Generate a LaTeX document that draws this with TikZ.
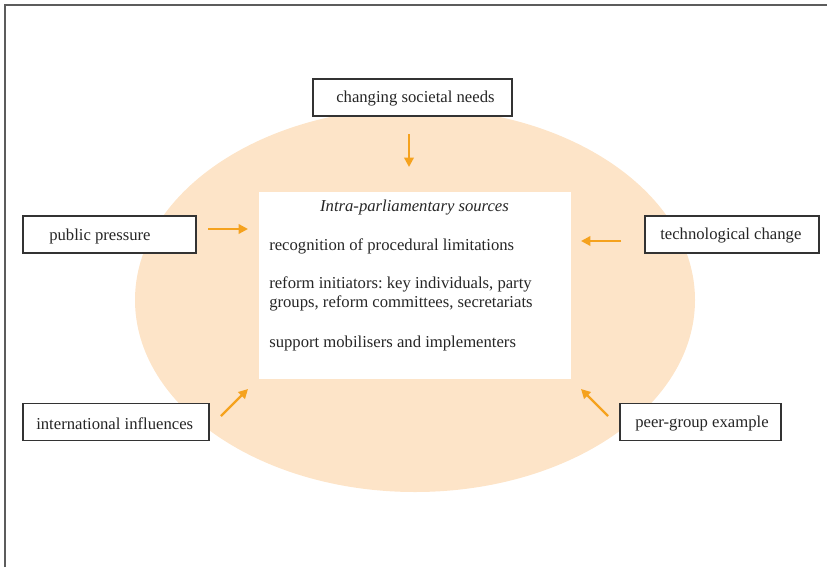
\documentclass[tikz,border=0pt]{standalone}
\usepackage{fontspec}
\setmainfont{Liberation Serif}
\usetikzlibrary{arrows.meta}
\definecolor{peach}{HTML}{FDE4C8}
\definecolor{arr}{HTML}{F5A21E}
\definecolor{edge}{HTML}{333333}
\frenchspacing
\begin{document}
\begin{tikzpicture}[x=0.75pt,y=-0.75pt,
  every node/.style={font=\fontsize{12.5}{14.25}\selectfont, text=black!85},
  factor/.style={draw=edge, line width=0.8pt, fill=white, rectangle, inner sep=0pt, minimum height=27.75pt},
  txt/.style={anchor=west, inner sep=0pt},
  infl/.style={draw=arr, line width=1.7pt, -{Triangle[length=7pt,width=7pt]}}]
\useasboundingbox (0,0) rectangle (827,567);
\draw[edge!80, line width=1pt] (5,567) -- (5,5) -- (827,5);
\fill[peach] (415,300) ellipse [x radius=280, y radius=192];
\node[fill=white, minimum width=234pt, minimum height=140.25pt, inner sep=0pt] (core) at (415,285.5) {};
\node[inner sep=0pt] (head) at (414.5,208) {\itshape Intra-parliamentary sources};
\node[txt] (l1) at (269,246) {recognition of procedural limitations};
\node[txt, align=left] (l2) at (269,294) {reform initiators: key individuals, party\\groups, reform committees, secretariats};
\node[txt] (l3) at (269,343) {support mobilisers and implementers};
% factor boxes
\node[factor, minimum width=149.25pt] (csn) at (412.5,97.5) {};
\node[txt] (csnt) at (336,99) {changing societal needs};
\node[factor, minimum width=129.75pt] (pp) at (109.5,234.5) {};
\node[txt] (ppt) at (49,236) {public pressure};
\node[factor, minimum width=130.5pt] (tc) at (732,234.5) {};
\node[txt] (tct) at (660,236) {technological change};
\node[factor, minimum width=139.5pt] (ii) at (116,422) {};
\node[txt] (iit) at (36,423.5) {international influences};
\node[factor, minimum width=120.75pt] (pg) at (700.5,422) {};
\node[txt] (pgt) at (635,423.5) {peer-group example};
% arrows
\coordinate (a1s) at (409,134); \coordinate (a1e) at (409,167);
\coordinate (a2s) at (208,229); \coordinate (a2e) at (248,229);
\coordinate (a3s) at (621,241); \coordinate (a3e) at (581,241);
\coordinate (a4s) at (221,416); \coordinate (a4e) at (248,389);
\coordinate (a5s) at (608,416); \coordinate (a5e) at (581,389);
\draw[infl] (a1s) -- (a1e);
\draw[infl] (a2s) -- (a2e);
\draw[infl] (a3s) -- (a3e);
\draw[infl] (a4s) -- (a4e);
\draw[infl] (a5s) -- (a5e);
\end{tikzpicture}
\end{document}
